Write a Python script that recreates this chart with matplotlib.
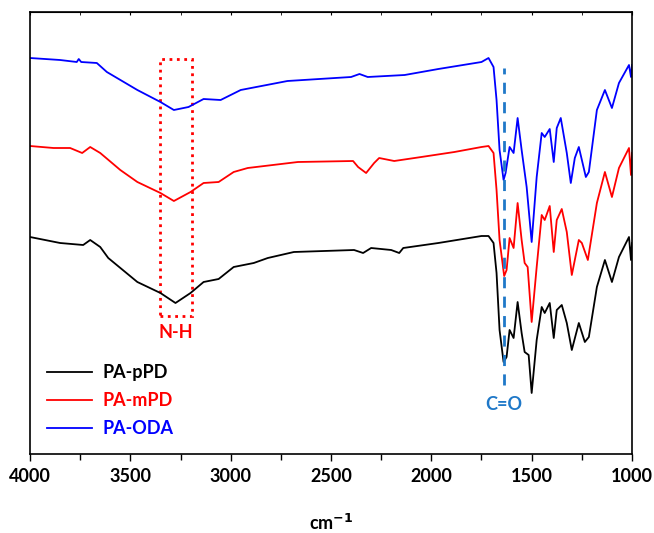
import matplotlib.pyplot as plt
from matplotlib.patches import Rectangle
from matplotlib.ticker import MultipleLocator

plt.rcParams['font.family'] = ['Lato', 'DejaVu Sans']
plt.rcParams['font.weight'] = 'bold'

# FTIR spectra, offset traces (arbitrary units)
wn_ppd = [4000, 3850, 3735, 3700, 3650, 3610, 3465, 3350, 3275, 3200, 3135, 3060,
          2985, 2885, 2815, 2685, 2385, 2340, 2300, 2200, 2160, 2140, 1965, 1750,
          1715, 1690, 1675, 1660, 1640, 1625, 1610, 1590, 1570, 1550, 1535, 1515,
          1500, 1475, 1450, 1435, 1410, 1390, 1375, 1350, 1325, 1300, 1265, 1235,
          1215, 1175, 1135, 1100, 1065, 1015, 1005, 1000]
t_ppd = [217, 211, 209, 214, 207, 196, 172, 161, 151, 161, 172, 175,
         187, 191, 196, 202, 204, 201, 206, 204, 201, 206, 211, 218,
         218, 211, 181, 124, 92, 97, 124, 116, 152, 121, 102, 99,
         61, 114, 147, 141, 151, 116, 144, 149, 131, 104, 131, 112,
         117, 167, 194, 172, 197, 217, 194, 211]

wn_mpd = [4000, 3883, 3800, 3740, 3700, 3650, 3550, 3465, 3350, 3283, 3200, 3135,
          3060, 2985, 2915, 2665, 2390, 2365, 2325, 2285, 2260, 2185, 2050, 1885,
          1750, 1715, 1690, 1675, 1660, 1637, 1625, 1610, 1590, 1570, 1550, 1535,
          1520, 1500, 1475, 1450, 1435, 1410, 1390, 1375, 1350, 1325, 1300, 1265,
          1250, 1220, 1175, 1135, 1100, 1065, 1015, 1005, 1000]
t_mpd = [308, 306, 306, 301, 307, 301, 284, 272, 261, 253, 262, 271,
         272, 282, 286, 292, 293, 287, 281, 291, 296, 293, 297, 302,
         307, 308, 301, 264, 214, 178, 184, 216, 206, 251, 214, 191,
         187, 132, 187, 239, 234, 248, 202, 234, 245, 222, 179, 214,
         211, 194, 251, 282, 257, 286, 306, 279, 301]

wn_oda = [4000, 3850, 3767, 3757, 3745, 3667, 3617, 3465, 3350, 3283, 3210, 3135,
          3050, 2950, 2717, 2400, 2358, 2317, 2133, 1965, 1750, 1715, 1690, 1675,
          1660, 1640, 1630, 1610, 1590, 1570, 1550, 1525, 1500, 1475, 1450, 1435,
          1410, 1390, 1375, 1355, 1325, 1305, 1285, 1265, 1230, 1215, 1175, 1135,
          1100, 1065, 1015, 1005, 1000]
t_oda = [396, 394, 392, 395, 392, 391, 382, 364, 352, 344, 347, 355,
         354, 364, 373, 377, 380, 377, 379, 385, 392, 396, 387, 354,
         304, 274, 281, 307, 301, 336, 304, 267, 212, 277, 321, 317,
         325, 292, 326, 336, 301, 271, 296, 307, 277, 282, 344, 364,
         346, 371, 389, 377, 389]

series = [
    ('PA-pPD', wn_ppd, t_ppd, 'black'),
    ('PA-mPD', wn_mpd, t_mpd, 'red'),
    ('PA-ODA', wn_oda, t_oda, 'blue'),
]

fig = plt.figure(figsize=(6.54, 5.33), dpi=100)
ax = fig.add_axes([30 / 654, 79 / 533, 602 / 654, 442 / 533])

for name, wn, t, c in series:
    ax.plot(wn, t, color=c, lw=1.3, label=name)

ax.set_xlim(4000, 1000)
ax.set_ylim(0, 442)
ax.xaxis.set_major_locator(MultipleLocator(500))
ax.xaxis.set_minor_locator(MultipleLocator(250))
ax.tick_params(axis='x', which='both', direction='out', labelsize=13, width=1)
ax.tick_params(axis='x', which='major', length=5, pad=5)
ax.tick_params(axis='x', which='minor', length=4)
ax.set_yticks([])
ax2 = ax.secondary_xaxis('top')
ax2.xaxis.set_major_locator(MultipleLocator(500))
ax2.xaxis.set_minor_locator(MultipleLocator(250))
ax2.tick_params(axis='x', which='both', direction='in', length=2, labeltop=False)
for sp in ax.spines.values():
    sp.set_linewidth(1.2)
ax.set_xlabel('cm$^{\\mathbf{-1}}$', fontsize=13, fontweight='bold', labelpad=20)

# N-H band box
ax.add_patch(Rectangle((3350, 138), -155, 257, fill=False, ec='red', ls=':', lw=2))
ax.text(3272, 130, 'N-H', color='red', fontsize=13, fontweight='bold',
        ha='center', va='top')

# C=O marker
ax.plot([1640, 1640], [69, 386], color='#1f78c8', ls='--', lw=2, dashes=(4, 3))
ax.text(1640, 58, 'C=O', color='#1f78c8', fontsize=13, fontweight='bold',
        ha='center', va='top')

leg = ax.legend(loc='lower left', bbox_to_anchor=(0.0, 0.0), frameon=False,
                fontsize=13, handlelength=2.5, labelspacing=0.6,
                borderaxespad=0.55, handletextpad=0.55)
for txt, (_, _, _, c) in zip(leg.get_texts(), series):
    txt.set_color(c)
    txt.set_fontweight('bold')

fig.savefig('out.png', dpi=100)
